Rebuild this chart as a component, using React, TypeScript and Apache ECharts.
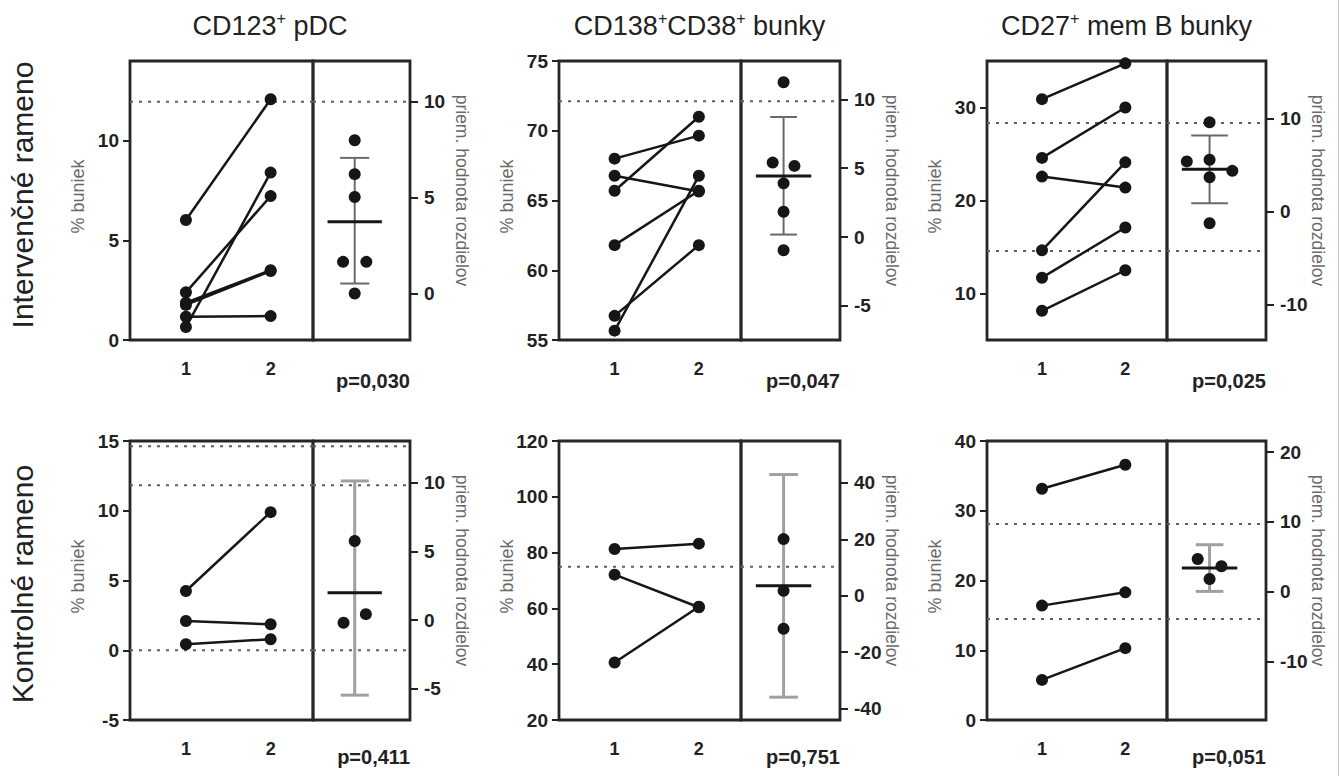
import React, { useEffect, useRef } from "react";
import * as echarts from "echarts";

const FONT = "'Liberation Sans', Arial, Helvetica, sans-serif";

// ---------- texts ----------
const panelTitles = [
  "{m|CD123}{s|+}{m| pDC}",
  "{m|CD138}{s|+}{m|CD38}{s|+}{m| bunky}",
  "{m|CD27}{s|+}{m| mem B bunky}",
];
const rowLabels = ["Intervenčné rameno", "Kontrolné rameno"];
const leftAxisName = "% buniek";
const rightAxisName = "priem. hodnota rozdielov";
const pValues = ["p=0,030", "p=0,047", "p=0,025", "p=0,411", "p=0,751", "p=0,051"];
const timeCategories = [1, 2];
const timeLabels = ["1", "2"];

// ---------- panel 1: CD123+ pDC, intervention ----------
const p1Before = [6.02, 2.39, 0.65, 1.76, 1.87, 1.17];
const p1After = [12.08, 7.22, 8.4, 3.46, 3.5, 1.2];
const p1Diff = [8.0, 6.23, 5.04, 1.65, 1.65, 0.0];
const p1Jitter = [0, 0, 0, -1, 1, 0];
const p1Stats = [3.74, 0.52, 7.08]; // mean, low, high
const p1RefLines = [11.96];
const p1LeftRange = [0, 14];
const p1RightRange = [-2.43, 12.14];
const p1LeftTicks = [0, 5, 10];
const p1RightTicks = [0, 5, 10];

// ---------- panel 2: CD138+CD38+, intervention ----------
const p2Before = [55.67, 65.7, 56.73, 61.8, 68.0, 66.77];
const p2After = [66.77, 71.0, 61.8, 65.7, 69.65, 65.65];
const p2Diff = [11.25, 5.41, 5.17, 3.9, 1.84, -0.96];
const p2Jitter = [0, -1, 1, 0, 0, 0];
const p2Stats = [4.44, 0.18, 8.72];
const p2RefLines = [72.12];
const p2LeftRange = [55, 75];
const p2RightRange = [-7.48, 12.79];
const p2LeftTicks = [55, 60, 65, 70, 75];
const p2RightTicks = [-5, 0, 5, 10];

// ---------- panel 3: CD27+ mem B, intervention ----------
const p3Before = [30.9, 24.58, 22.57, 14.64, 11.7, 8.14];
const p3After = [34.75, 30.0, 21.39, 24.1, 17.1, 12.5];
const p3Diff = [9.57, 5.56, 5.38, 4.37, 3.69, -1.25];
const p3Jitter = [0, 0, -1, 1, 0, 0];
const p3Stats = [4.55, 0.9, 8.17];
const p3RefLines = [28.33, 14.57];
const p3LeftRange = [5, 35];
const p3RightRange = [-13.77, 16.15];
const p3LeftTicks = [10, 20, 30];
const p3RightTicks = [-10, 0, 10];

// ---------- panel 4: CD123+ pDC, control ----------
const p4Before = [4.25, 2.1, 0.43];
const p4After = [9.9, 1.86, 0.79];
const p4Diff = [5.76, -0.2, 0.43];
const p4Jitter = [0, -1, 1];
const p4Stats = [1.98, -5.47, 10.13];
const p4RefLines = [14.62, 11.83, 0];
const p4LeftRange = [-5, 15];
const p4RightRange = [-7.28, 13.04];
const p4LeftTicks = [-5, 0, 5, 10, 15];
const p4RightTicks = [-5, 0, 5, 10];

// ---------- panel 5: CD138+CD38+, control ----------
const p5Before = [81.3, 72.1, 40.6];
const p5After = [83.2, 60.4, 60.6];
const p5Diff = [20.1, 1.78, -11.7];
const p5Jitter = [0, 0, 0];
const p5Stats = [3.55, -36.0, 43.0];
const p5RefLines = [74.9];
const p5LeftRange = [20, 120];
const p5RightRange = [-44.1, 54.9];
const p5LeftTicks = [20, 40, 60, 80, 100, 120];
const p5RightTicks = [-40, -20, 0, 20, 40];

// ---------- panel 6: CD27+ mem B, control ----------
const p6Before = [33.15, 16.4, 5.75];
const p6After = [36.6, 18.3, 10.3];
const p6Diff = [4.69, 3.64, 1.82];
const p6Jitter = [-1, 1, 0];
const p6Stats = [3.4, 0.04, 6.73];
const p6RefLines = [28.1, 14.47];
const p6LeftRange = [0, 40];
const p6RightRange = [-18.4, 21.6];
const p6LeftTicks = [0, 10, 20, 30, 40];
const p6RightTicks = [-10, 0, 10, 20];

const panels = [
  { before: p1Before, after: p1After, diff: p1Diff, jit: p1Jitter, stats: p1Stats, refs: p1RefLines, lr: p1LeftRange, rr: p1RightRange, lt: p1LeftTicks, rt: p1RightTicks },
  { before: p2Before, after: p2After, diff: p2Diff, jit: p2Jitter, stats: p2Stats, refs: p2RefLines, lr: p2LeftRange, rr: p2RightRange, lt: p2LeftTicks, rt: p2RightTicks },
  { before: p3Before, after: p3After, diff: p3Diff, jit: p3Jitter, stats: p3Stats, refs: p3RefLines, lr: p3LeftRange, rr: p3RightRange, lt: p3LeftTicks, rt: p3RightTicks },
  { before: p4Before, after: p4After, diff: p4Diff, jit: p4Jitter, stats: p4Stats, refs: p4RefLines, lr: p4LeftRange, rr: p4RightRange, lt: p4LeftTicks, rt: p4RightTicks },
  { before: p5Before, after: p5After, diff: p5Diff, jit: p5Jitter, stats: p5Stats, refs: p5RefLines, lr: p5LeftRange, rr: p5RightRange, lt: p5LeftTicks, rt: p5RightTicks },
  { before: p6Before, after: p6After, diff: p6Diff, jit: p6Jitter, stats: p6Stats, refs: p6RefLines, lr: p6LeftRange, rr: p6RightRange, lt: p6LeftTicks, rt: p6RightTicks },
];

// ---------- layout (styling) ----------
const COLS = [
  { L: 130, D: 313, R: 410 },
  { L: 559, D: 741, R: 840 },
  { L: 987, D: 1167, R: 1266 },
];
const ROWS = [
  { T: 61, B: 340 },
  { T: 441, B: 720 },
];
const X_MIN = 0.34;
const X_MAX = 2.5;
const EST_CENTER = 0.43;
const JITTER_W = [0.12, 0.11, 0.23, 0.115, 0.12, 0.12];
const CAP_W = [0.15, 0.135, 0.185, 0.145, 0.145, 0.14];
const MEAN_W = 0.28;
const INK = "#161616";

function buildOption() {
  const grid: any[] = [];
  const xAxis: any[] = [];
  const yAxis: any[] = [];
  const series: any[] = [];
  const graphic: any[] = [];

  const tickLabel = {
    fontSize: 19,
    fontWeight: "bold",
    color: "#222",
    fontFamily: FONT,
  };

  panels.forEach((pn, i) => {
    const r = Math.floor(i / 3);
    const c = i % 3;
    const { L, D, R } = COLS[c];
    const { T, B } = ROWS[r];
    const g0 = grid.length;
    const gridStyle = { show: true, borderColor: "#262626", borderWidth: 2.8, backgroundColor: "transparent" };
    grid.push({ left: L, top: T, width: D - L, height: B - T, ...gridStyle });
    grid.push({ left: D, top: T, width: R - D, height: B - T, ...gridStyle });

    const x0 = xAxis.length;
    xAxis.push({
      gridIndex: g0,
      type: "value",
      min: X_MIN,
      max: X_MAX,
      axisLine: { show: false },
      axisTick: { show: false },
      splitLine: { show: false },
      axisLabel: {
        ...tickLabel,
        fontSize: 18,
        margin: 20,
        customValues: timeCategories,
        formatter: (v: number) => timeLabels[timeCategories.indexOf(v)] ?? "",
      },
    });
    xAxis.push({ gridIndex: g0 + 1, type: "value", min: 0, max: 1, show: false });

    const y0 = yAxis.length;
    yAxis.push({
      gridIndex: g0,
      type: "value",
      position: "left",
      min: pn.lr[0],
      max: pn.lr[1],
      axisLine: { show: false },
      splitLine: { show: false },
      axisTick: { show: true, customValues: pn.lt, length: 7, lineStyle: { color: "#222", width: 2 } },
      axisLabel: { ...tickLabel, margin: 11, customValues: pn.lt },
    });
    yAxis.push({ gridIndex: g0 + 1, type: "value", position: "left", min: pn.lr[0], max: pn.lr[1], show: false });
    yAxis.push({
      gridIndex: g0 + 1,
      type: "value",
      position: "right",
      min: pn.rr[0],
      max: pn.rr[1],
      axisLine: { show: false },
      splitLine: { show: false },
      axisTick: { show: true, customValues: pn.rt, length: 8, lineStyle: { color: "#222", width: 2 } },
      axisLabel: { ...tickLabel, margin: 14, customValues: pn.rt },
    });

    const dotted = { type: [3, 6], color: "#5e5e5e", width: 2 };
    pn.refs.forEach((v) => {
      series.push({
        type: "line", silent: true, xAxisIndex: x0, yAxisIndex: y0, symbol: "none", z: 1,
        lineStyle: dotted, data: [[X_MIN, v], [X_MAX, v]],
      });
      series.push({
        type: "line", silent: true, xAxisIndex: x0 + 1, yAxisIndex: y0 + 1, symbol: "none", z: 1,
        lineStyle: dotted, data: [[0, v], [1, v]],
      });
    });

    pn.before.forEach((b, k) => {
      series.push({
        type: "line", silent: true, xAxisIndex: x0, yAxisIndex: y0, z: 3,
        symbol: "circle", symbolSize: 12,
        itemStyle: { color: INK, opacity: 1 }, lineStyle: { color: INK, width: 2.5 },
        data: [[timeCategories[0], b], [timeCategories[1], pn.after[k]]],
      });
    });

    const [mean, lo, hi] = pn.stats;
    const errColor = r === 0 ? "#6a6a6a" : "#a0a0a0";
    const errWidth = r === 0 ? 2 : 3;
    const C = EST_CENTER;
    const cw = CAP_W[i];
    const errSegs = [
      [[C, lo], [C, hi]],
      [[C - cw, hi], [C + cw, hi]],
      [[C - cw, lo], [C + cw, lo]],
    ];
    errSegs.forEach((seg) => {
      series.push({
        type: "line", silent: true, xAxisIndex: x0 + 1, yAxisIndex: y0 + 2, symbol: "none", z: 2,
        lineStyle: { color: errColor, width: errWidth }, data: seg, clip: false,
      });
    });
    series.push({
      type: "line", silent: true, xAxisIndex: x0 + 1, yAxisIndex: y0 + 2, symbol: "none", z: 3,
      lineStyle: { color: INK, width: 3 }, data: [[C - MEAN_W, mean], [C + MEAN_W, mean]],
    });
    series.push({
      type: "scatter", silent: true, xAxisIndex: x0 + 1, yAxisIndex: y0 + 2, z: 4,
      symbol: "circle", symbolSize: 12, itemStyle: { color: INK, opacity: 1 },
      data: pn.diff.map((d, k) => [C + pn.jit[k] * JITTER_W[i], d]),
    });

    // axis names
    graphic.push({
      type: "text", x: L - 52, y: (T + B) / 2 - 4, rotation: Math.PI / 2, silent: true,
      style: { text: leftAxisName, fill: "#6a6a6a", font: `18px ${FONT}`, align: "center", verticalAlign: "middle", textAlign: "center", textVerticalAlign: "middle" },
    });
    graphic.push({
      type: "text", x: R + 52, y: (T + B) / 2 - 10, rotation: -Math.PI / 2, silent: true,
      style: { text: rightAxisName, fill: "#6a6a6a", font: `17.5px ${FONT}`, align: "center", verticalAlign: "middle", textAlign: "center", textVerticalAlign: "middle" },
    });
    // p-value
    graphic.push({
      type: "text", x: R, y: r === 0 ? 381 : 757, silent: true,
      style: { text: pValues[i], fill: "#222", font: `bold 20px ${FONT}`, align: "right", verticalAlign: "middle", textAlign: "right", textVerticalAlign: "middle" },
    });
  });

  COLS.forEach((col, c) => {
    graphic.push({
      type: "text", x: (col.L + col.R) / 2, y: 26, silent: true,
      style: {
        text: panelTitles[c], fill: "#222", align: "center", verticalAlign: "middle", textAlign: "center", textVerticalAlign: "middle",
        font: `27px ${FONT}`,
        rich: {
          m: { fontSize: 27, fontFamily: FONT, lineHeight: 32, fill: "#222", color: "#222" },
          s: { fontSize: 16, fontFamily: FONT, lineHeight: 32, verticalAlign: "top", fill: "#222", color: "#222" },
        },
      },
    });
  });

  rowLabels.forEach((t, r) => {
    graphic.push({
      type: "text", x: 22, y: r === 0 ? 195 : 584, rotation: Math.PI / 2, silent: true,
      style: { text: t, fill: "#222", font: `30px ${FONT}`, align: "center", verticalAlign: "middle", textAlign: "center", textVerticalAlign: "middle" },
    });
  });

  graphic.push({
    type: "line", silent: true, shape: { x1: 1338.5, y1: 0, x2: 1338.5, y2: 776 },
    style: { stroke: "#c4c4c4", lineWidth: 1 },
  });

  return {
    animation: false,
    backgroundColor: "#ffffff",
    grid, xAxis, yAxis, series, graphic,
  };
}

export default function App() {
  const ref = useRef<HTMLDivElement>(null);
  useEffect(() => {
    document.body.style.margin = "0";
    if (!ref.current) return;
    const chart = echarts.init(ref.current, undefined, { renderer: "svg" });
    chart.setOption(buildOption() as any);
    return () => chart.dispose();
  }, []);
  return <div ref={ref} style={{ width: 1340, height: 776 }} />;
}
